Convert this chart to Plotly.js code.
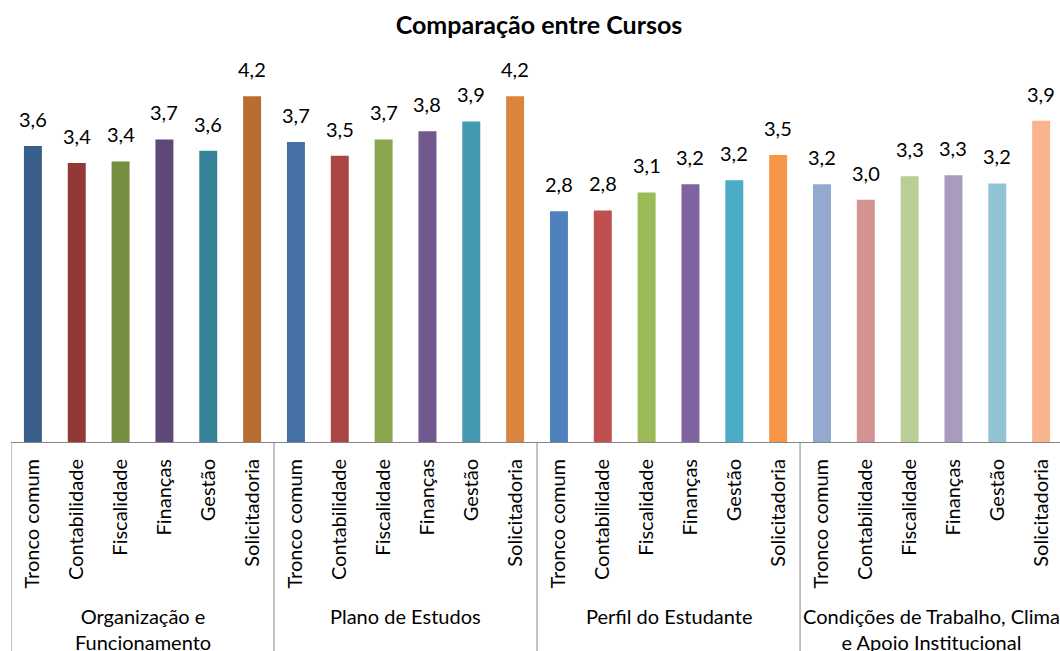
<!DOCTYPE html>
<html>
<head>
<meta charset="utf-8">
<script src="https://cdn.plot.ly/plotly-3.0.1.min.js"></script>
<style>html,body{margin:0;padding:0;background:#fff;}#chart{width:1060px;height:651px;}</style>
</head>
<body>
<div id="chart"></div>
<script>
const groups = ["Organização e<br>Funcionamento", "Plano de Estudos", "Perfil do Estudante", "Condições de Trabalho, Clima<br>e Apoio Institucional"];
const courses = ["Tronco comum", "Contabilidade", "Fiscalidade", "Finanças", "Gestão", "Solicitadoria"];

const valuesOrganizacao = [3.63, 3.42, 3.44, 3.71, 3.57, 4.24];
const valuesPlano = [3.68, 3.51, 3.71, 3.81, 3.93, 4.24];
const valuesPerfil = [2.83, 2.84, 3.06, 3.16, 3.21, 3.52];
const valuesCondicoes = [3.16, 2.97, 3.26, 3.27, 3.17, 3.94];

const colorsOrganizacao = ["#3B5F8D", "#923937", "#758E3F", "#5E4878", "#368296", "#B86E31"];
const colorsPlano = ["#4571A7", "#AA4643", "#8AA64E", "#71588F", "#4299B0", "#DB843D"];
const colorsPerfil = ["#4F81BD", "#C0504D", "#9BBB59", "#8064A2", "#4BACC6", "#F79646"];
const colorsCondicoes = ["#94A9D0", "#D49391", "#B9CE96", "#A99BBE", "#92C3D4", "#F9B48F"];

const allValues = [valuesOrganizacao, valuesPlano, valuesPerfil, valuesCondicoes];
const allColors = [colorsOrganizacao, colorsPlano, colorsPerfil, colorsCondicoes];

const x = [], y = [], colors = [], tickText = [];
allValues.forEach((vals, g) => {
  vals.forEach((v, i) => {
    x.push(g * courses.length + i);
    y.push(v);
    colors.push(allColors[g][i]);
    tickText.push(courses[i]);
  });
});

const FONT = "Lato, 'Open Sans', sans-serif";

const annotations = [];
x.forEach((xi, k) => {
  annotations.push({
    x: xi, y: y[k], xref: 'x', yref: 'y',
    text: y[k].toFixed(1).replace('.', ','),
    showarrow: false, yanchor: 'bottom', yshift: 13,
    font: {family: FONT, size: 20, color: '#000'}
  });
});
groups.forEach((gname, g) => {
  annotations.push({
    x: g * courses.length + (courses.length - 1) / 2, y: 0, xref: 'x', yref: 'paper',
    text: gname, showarrow: false, yanchor: 'top', yshift: -160,
    font: {family: FONT, size: 20, color: '#000'}
  });
});

const shapes = groups.map((gname, g) => ({
  type: 'line', xref: 'x', yref: 'paper',
  x0: g * courses.length - 0.5, x1: g * courses.length - 0.5,
  y0: 0, y1: -0.6,
  line: {color: '#868686', width: 1}
}));

const data = [{
  type: 'bar', x: x, y: y,
  marker: {color: colors, line: {width: 0}},
  hoverinfo: 'none'
}];

const layout = {
  width: 1060, height: 651,
  margin: {l: 11, r: 0, t: 75, b: 209, pad: 0},
  paper_bgcolor: '#fff', plot_bgcolor: '#fff',
  showlegend: false,
  bargap: 0.59,
  title: {
    text: '<b>Comparação entre Cursos</b>',
    font: {family: FONT, size: 25, color: '#000'},
    x: 539 / 1060, xref: 'container', xanchor: 'center',
    y: 1 - 25 / 651, yref: 'container', yanchor: 'middle'
  },
  xaxis: {
    range: [-0.5, 23.43],
    tickmode: 'array', tickvals: x, ticktext: tickText,
    tickangle: -90, ticks: '', ticklabelstandoff: 8,
    tickfont: {family: FONT, size: 20, color: '#000'},
    showgrid: false, zeroline: false,
    showline: true, linecolor: '#868686', linewidth: 1,
    fixedrange: true
  },
  yaxis: {
    range: [0, 4.5], visible: false, showgrid: false, zeroline: false, fixedrange: true
  },
  annotations: annotations,
  shapes: shapes
};

Plotly.newPlot('chart', data, layout, {displayModeBar: false, staticPlot: true});
</script>
</body>
</html>
